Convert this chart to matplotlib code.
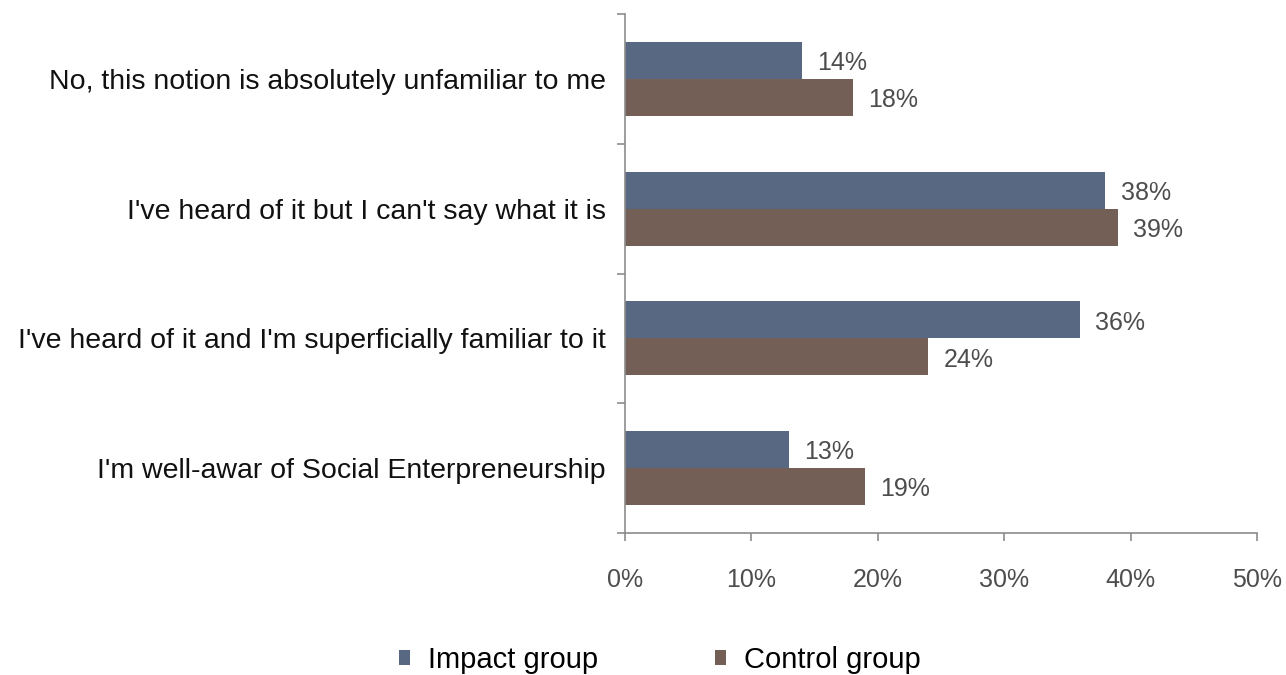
import matplotlib
matplotlib.use("Agg")
import matplotlib.pyplot as plt
import numpy as np

# survey answers, top to bottom
categories = [
    "No, this notion is absolutely unfamiliar to me",
    "I've heard of it but I can't say what it is",
    "I've heard of it and I'm superficially familiar to it",
    "I'm well-awar of Social Enterpreneurship",
]
impact = [14, 38, 36, 13]
control = [18, 39, 24, 19]
series_names = ["Impact group", "Control group"]
xticks = [0, 10, 20, 30, 40, 50]

blue = "#586782"
brown = "#735f55"
axis_grey = "#8c8c8c"
label_grey = "#4d4d4d"

plt.rcParams["font.family"] = ["Liberation Sans", "DejaVu Sans"]

fig = plt.figure(figsize=(12.86, 6.75), dpi=100)
ax = fig.add_axes([0.486, 0.2104, 0.4915, 0.7686])

y = np.arange(len(categories))
h = 0.285
b1 = ax.barh(y - h / 2, impact, height=h, color=blue, label=series_names[0])
b2 = ax.barh(y + h / 2, control, height=h, color=brown, label=series_names[1])

# percentage labels just past the end of each bar
for bars, vals in ((b1, impact), (b2, control)):
    for bar, v in zip(bars, vals):
        ax.text(v + 1.2, bar.get_y() + bar.get_height() / 2 + 0.02, f"{v}%",
                va="center", ha="left", fontsize=18, color=label_grey)

ax.set_ylim(len(categories) - 0.5, -0.5)
ax.set_xlim(0, 50)
ax.set_xticks(xticks)
ax.set_xticklabels([f"{t}%" for t in xticks], fontsize=18, color=label_grey)
# tick marks sit between the groups, labels at the group centres
ax.set_yticks(np.arange(len(categories) + 1) - 0.5, minor=False)
ax.set_yticklabels([])
ax.set_yticks(y, minor=True)
ax.set_yticklabels(categories, minor=True, fontsize=20.5, color="#111111")
ax.tick_params(axis="y", which="minor", length=0, pad=14)
ax.tick_params(axis="y", which="major", length=6, color=axis_grey, width=1.2)
ax.tick_params(axis="x", length=6, color=axis_grey, width=1.2, pad=19)

for side in ("top", "right"):
    ax.spines[side].set_visible(False)
for side in ("left", "bottom"):
    ax.spines[side].set_color(axis_grey)
    ax.spines[side].set_linewidth(1.2)

fig.legend(handles=[b1, b2], loc="center", bbox_to_anchor=(0.513, 0.022),
           ncol=2, frameon=False, fontsize=21, handlelength=0.4,
           handleheight=0.4, handletextpad=0.6, columnspacing=4.0)

fig.savefig("out.png", dpi=100, facecolor="white")
